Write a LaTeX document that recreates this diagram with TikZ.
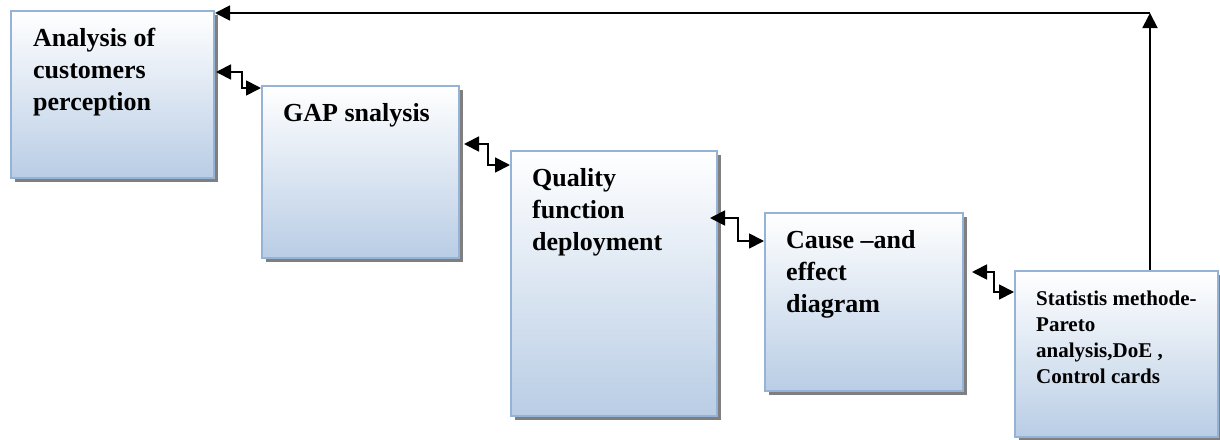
\documentclass[tikz,border=0pt]{standalone}
\usepackage{fontspec}
\setmainfont{Liberation Serif}
\usetikzlibrary{arrows.meta,shadows,calc}
\definecolor{boxborder}{HTML}{95B3D7}
\definecolor{boxbottom}{HTML}{B9CDE5}
\definecolor{shadowgray}{HTML}{7F7F7F}
\begin{document}
\begin{tikzpicture}[x=1pt,y=-1pt,
  stepbox/.style={draw=boxborder, line width=2pt, rectangle, inner sep=0pt,
    anchor=north west, top color=white, bottom color=boxbottom,
    drop shadow={shadow xshift=3.5pt, shadow yshift=-3.5pt, fill=shadowgray, opacity=1}},
  boxtext/.style={anchor=north west, inner sep=0pt, align=left,
    font=\bfseries\fontsize{26}{32}\selectfont},
  smalltext/.style={anchor=north west, inner sep=0pt, align=left,
    font=\bfseries\fontsize{21}{26}\selectfont},
  arr/.style={line width=1.8pt, -{Triangle[length=15pt,width=15pt]}},
  dbl/.style={line width=1.8pt, {Triangle[length=15pt,width=15pt]}-{Triangle[length=15pt,width=15pt]}}
]
\useasboundingbox (0,0) rectangle (1220,439);

\node[stepbox, minimum width=203pt, minimum height=167pt] (b1) at (10,10) {};
\node[stepbox, minimum width=197pt, minimum height=172pt] (b2) at (261,85) {};
\node[stepbox, minimum width=206pt, minimum height=265pt] (b3) at (510,150) {};
\node[stepbox, minimum width=198pt, minimum height=178pt] (b4) at (764,212) {};
\node[stepbox, minimum width=203pt, minimum height=166pt] (b5) at (1014,270) {};

\node[boxtext] (t1) at ([xshift=23pt,yshift=-18pt]b1.north west) {Analysis of\\customers\\perception};
\node[boxtext] (t2) at ([xshift=22pt,yshift=-18pt]b2.north west) {GAP snalysis};
\node[boxtext] (t3) at ([xshift=22pt,yshift=-18pt]b3.north west) {Quality\\function\\deployment};
\node[boxtext] (t4) at ([xshift=22pt,yshift=-18pt]b4.north west) {Cause –and\\effect\\diagram};
\node[smalltext] (t5) at ([xshift=22pt,yshift=-21pt]b5.north west) {Statistis methode-\\Pareto\\analysis,DoE ,\\Control cards};

\draw[dbl] ([xshift=1pt,yshift=-62pt]b1.north east) -- ++(26,0) |- ([yshift=-3pt]b2.north west);
\draw[dbl] ([xshift=4pt,yshift=-59pt]b2.north east) -- ++(24,0) |- ([yshift=-15pt]b3.north west);
\draw[dbl] ([xshift=-8pt,yshift=-68pt]b3.north east) -- ++(28,0) |- ([yshift=-29pt]b4.north west);
\draw[dbl] ([xshift=8pt,yshift=-60pt]b4.north east) -- ++(22,0) |- ([yshift=-22pt]b5.north west);

\coordinate (corner) at (1150,13);
\draw[arr] (b5.north -| corner) -- (corner);
\draw[arr] (corner) -- (b1.east |- corner);
\end{tikzpicture}
\end{document}
